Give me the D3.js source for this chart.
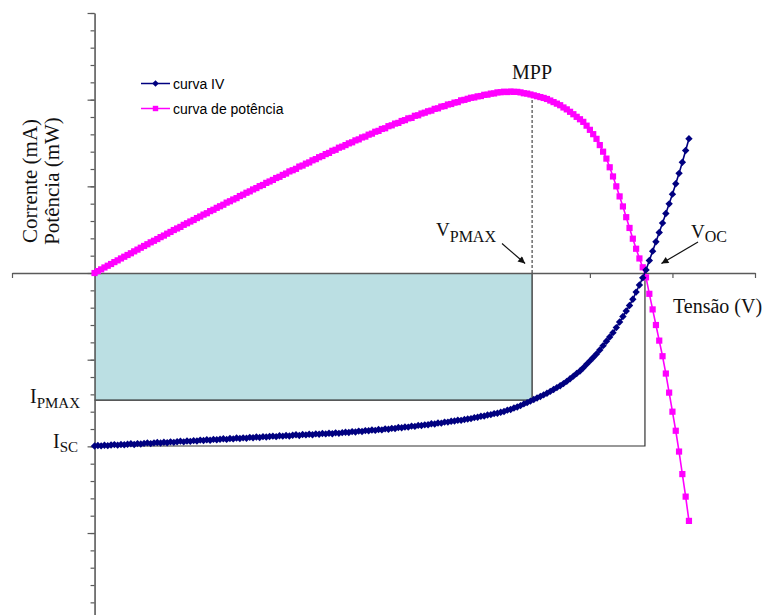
<!DOCTYPE html>
<html><head><meta charset="utf-8">
<script src="https://cdn.jsdelivr.net/npm/d3@7"></script>
<style>html,body{margin:0;padding:0;background:#fff;} svg{display:block;}</style>
</head><body>
<svg id="chart" width="763" height="615"></svg>
<script>
// ---- data ----
const vStep = 0.04; // V between measured points, first point at 0 V
const current = [
-9.98,-9.95,-9.97,-9.94,-9.96,-9.92,-9.90,-9.93,-9.89,-9.91,
-9.88,-9.85,-9.89,-9.84,-9.86,-9.83,-9.80,-9.84,-9.80,-9.78,
-9.81,-9.76,-9.79,-9.74,-9.77,-9.73,-9.70,-9.74,-9.69,-9.71,
-9.67,-9.69,-9.64,-9.66,-9.62,-9.65,-9.60,-9.62,-9.59,-9.56,
-9.60,-9.55,-9.57,-9.52,-9.55,-9.51,-9.53,-9.48,-9.50,-9.46,
-9.49,-9.44,-9.46,-9.43,-9.41,-9.44,-9.39,-9.41,-9.37,-9.40,
-9.36,-9.33,-9.37,-9.32,-9.34,-9.30,-9.33,-9.28,-9.30,-9.26,
-9.28,-9.24,-9.27,-9.22,-9.25,-9.21,-9.19,-9.20,-9.15,-9.17,
-9.12,-9.14,-9.09,-9.10,-9.06,-9.08,-9.03,-9.05,-8.99,-9.01,
-8.96,-8.97,-8.91,-8.93,-8.88,-8.89,-8.83,-8.85,-8.79,-8.80,
-8.76,-8.75,-8.70,-8.71,-8.65,-8.66,-8.60,-8.60,-8.55,-8.54,
-8.49,-8.50,-8.45,-8.42,-8.40,-8.34,-8.32,-8.26,-8.25,-8.19,
-8.17,-8.11,-8.09,-8.03,-7.99,-7.91,-7.87,-7.79,-7.73,-7.65,
-7.55,-7.48,-7.39,-7.30,-7.21,-7.12,-7.03,-6.94,-6.83,-6.72,
-6.61,-6.50,-6.38,-6.25,-6.10,-5.95,-5.80,-5.65,-5.47,-5.27,
-5.07,-4.87,-4.67,-4.44,-4.19,-3.94,-3.69,-3.44,-3.15,-2.83,
-2.51,-2.19,-1.87,-1.51,-1.10,-0.69,-0.28,0.18,0.72,1.26,
1.80,2.34,2.88,3.43,3.99,4.55,5.15,5.75,6.39,7.07,
7.75];
const power = [
0,0.11,0.21,0.32,0.42,0.52,0.63,0.73,0.84,0.94,
1.04,1.14,1.25,1.35,1.46,1.56,1.66,1.77,1.86,1.96,
2.07,2.16,2.27,2.37,2.48,2.57,2.66,2.78,2.87,2.97,
3.06,3.17,3.26,3.37,3.45,3.57,3.65,3.76,3.85,3.94,
4.06,4.14,4.24,4.32,4.44,4.52,4.63,4.71,4.82,4.90,
5.01,5.08,5.20,5.28,5.37,5.48,5.55,5.66,5.74,5.86,
5.93,6.01,6.14,6.20,6.31,6.38,6.50,6.57,6.68,6.75,
6.86,6.93,7.05,7.11,7.23,7.29,7.38,7.48,7.54,7.65,
7.71,7.82,7.87,7.98,8.04,8.15,8.20,8.31,8.35,8.47,
8.52,8.62,8.66,8.77,8.82,8.92,8.95,9.07,9.10,9.20,
9.25,9.33,9.37,9.47,9.50,9.60,9.63,9.72,9.75,9.83,
9.86,9.96,9.99,10.05,10.11,10.13,10.19,10.21,10.28,10.29,
10.35,10.36,10.42,10.43,10.46,10.44,10.47,10.45,10.45,10.42,
10.37,10.35,10.30,10.25,10.20,10.15,10.10,10.04,9.95,9.86,
9.77,9.68,9.55,9.44,9.30,9.16,9.01,8.87,8.72,8.50,
8.26,8.01,7.74,7.38,7.00,6.60,6.10,5.57,5.00,4.42,
3.84,3.22,2.60,1.98,1.40,0.84,0.33,-0.25,-1.20,-2.10,
-3.00,-3.90,-4.80,-5.80,-6.90,-8.00,-9.10,-10.30,-11.60,-12.90,
-14.30];
const seriesNames = ["curva IV", "curva de potência"];
const xTicks = [-1,0,1,2,3,4,5,6,7,8];
const yTicks = [-20,-19,-18,-17,-16,-15,-14,-13,-12,-11,-10,-9,-8,-7,-6,-5,-4,-3,-2,-1,0,1,2,3,4,5,6,7,8,9,10,11,12,13,14,15];
const yMajorTicks = [-20,-15,-10,-5,0,5,10,15];
const vPmax = 5.30, iPmax = -7.33, pMaxDash = 10.2, vOc = 6.667, iSc = -9.98;

// ---- chart ----
const svg = d3.select("#chart");
const x = d3.scaleLinear().domain([-1, 8]).range([12, 755]);
const y = d3.scaleLinear().domain([-20, 15]).range([619.7, 13]);
const serif = "'Times New Roman','Liberation Serif',serif";
const sans = "Arial,'Liberation Sans',sans-serif";
const axisColor = "#5a5a5a";

// axes (ticks first; rectangle covers the ticks beneath it)
const gx = svg.append("g").attr("transform", `translate(0,${y(0)})`)
  .call(d3.axisBottom(x).tickValues(xTicks).tickSize(5).tickSizeOuter(0).tickFormat(""));
const gyMinor = svg.append("g").attr("transform", `translate(${x(0)},0)`)
  .call(d3.axisLeft(y).tickValues(yTicks).tickSize(4).tickSizeOuter(0).tickFormat(""));
const gyMajor = svg.append("g").attr("transform", `translate(${x(0)},0)`)
  .call(d3.axisLeft(y).tickValues(yMajorTicks).tickSize(7).tickSizeOuter(0).tickFormat(""));
gyMajor.select(".domain").remove();
svg.selectAll(".domain").attr("stroke", axisColor).attr("stroke-width", 1.6);
svg.selectAll(".tick line").attr("stroke", axisColor).attr("stroke-width", 1.2);

// shaded rectangle (max power area)
svg.append("rect")
  .attr("x", x(0)).attr("y", y(0))
  .attr("width", x(vPmax) - x(0)).attr("height", y(iPmax) - y(0))
  .attr("fill", "#bbdfe3");
svg.append("path")
  .attr("d", `M${x(0)},${y(iPmax)}H${x(vPmax)}V${y(0)}`)
  .attr("fill", "none").attr("stroke", "#222").attr("stroke-width", 1.2);
// bring axis lines back on top of the rectangle
gx.raise(); gx.selectAll(".tick").remove();
svg.append("g").attr("transform", `translate(0,${y(0)})`)
  .call(d3.axisBottom(x).tickValues(xTicks.filter(v => v > vPmax || v < 0)).tickSize(5).tickSizeOuter(0).tickFormat(""))
  .call(g => g.select(".domain").remove())
  .selectAll(".tick line").attr("stroke", axisColor).attr("stroke-width", 1.2);
gyMinor.raise();

// Isc / Voc guide
svg.append("path")
  .attr("d", `M${x(0)},${y(iSc)}H${x(vOc)}V${y(0)}`)
  .attr("fill", "none").attr("stroke", "#333").attr("stroke-width", 1.2);
// MPP dashed line
svg.append("line")
  .attr("x1", x(vPmax)).attr("x2", x(vPmax))
  .attr("y1", y(0)).attr("y2", y(pMaxDash))
  .attr("stroke", "#222").attr("stroke-width", 1).attr("stroke-dasharray", "3,2");

// curves
const ivColor = "#000080", pColor = "#ff00ff";
const line = d3.line().x((d, i) => x(i * vStep)).y(d => y(d));
const diamond = "M0,-3.7L3.7,0L0,3.7L-3.7,0Z";
const sq = 6.2;

svg.append("path").datum(power).attr("d", line)
  .attr("fill", "none").attr("stroke", pColor).attr("stroke-width", 1.6);
svg.append("g").selectAll("rect").data(power).join("rect")
  .attr("x", (d, i) => x(i * vStep) - sq / 2).attr("y", d => y(d) - sq / 2)
  .attr("width", sq).attr("height", sq).attr("fill", pColor);

svg.append("path").datum(current).attr("d", line)
  .attr("fill", "none").attr("stroke", ivColor).attr("stroke-width", 1.6);
svg.append("g").selectAll("path").data(current).join("path")
  .attr("transform", (d, i) => `translate(${x(i * vStep)},${y(d)})`)
  .attr("d", diamond).attr("fill", ivColor);

// legend
const legend = svg.append("g");
[[ivColor, "d"], [pColor, "s"]].forEach(([c, m], k) => {
  const ly = 83.5 + k * 25;
  legend.append("line").attr("x1", 141).attr("x2", 170).attr("y1", ly).attr("y2", ly)
    .attr("stroke", c).attr("stroke-width", 1.5);
  if (m === "d") legend.append("path").attr("d", "M0,-3.3L3.3,0L0,3.3L-3.3,0Z").attr("transform", `translate(155.5,${ly})`).attr("fill", c);
  else legend.append("rect").attr("x", 152.8).attr("y", ly - 2.7).attr("width", 5.4).attr("height", 5.4).attr("fill", c);
  legend.append("text").attr("x", 173).attr("y", ly + 5)
    .attr("font-family", sans).attr("font-size", 14).attr("fill", "#000")
    .text(seriesNames[k]);
});

// axis titles
const yl = svg.append("g").attr("transform", "translate(37,181) rotate(-90)")
  .attr("font-family", serif).attr("font-size", 21).attr("fill", "#111").attr("text-anchor", "middle");
yl.append("text").attr("x", 0).attr("y", 0).text("Corrente (mA)");
yl.append("text").attr("x", 0).attr("y", 22).text("Potência (mW)");
svg.append("text").attr("x", 673).attr("y", 313).attr("font-family", serif).attr("font-size", 20)
  .attr("fill", "#111").text("Tensão (V)");

// annotations
function subLabel(px, py, main, sub, fs, sfs, dy) {
  const t = svg.append("text").attr("x", px).attr("y", py)
    .attr("font-family", serif).attr("font-size", fs).attr("fill", "#111");
  t.append("tspan").text(main);
  t.append("tspan").attr("font-size", sfs).attr("dy", dy).text(sub);
}
svg.append("text").attr("x", x(vPmax)).attr("y", 79).attr("text-anchor", "middle")
  .attr("font-family", serif).attr("font-size", 20).attr("fill", "#111").text("MPP");
subLabel(436, 236, "V", "PMAX", 19, 16, 6);
subLabel(691, 238, "V", "OC", 19, 16, 4);
subLabel(30, 403, "I", "PMAX", 20, 15, 4.5);
subLabel(53, 447.5, "I", "SC", 20, 15, 4.5);

// arrows
svg.append("defs").append("marker").attr("id", "ah")
  .attr("viewBox", "0 0 10 10").attr("refX", 10).attr("refY", 5)
  .attr("markerWidth", 9).attr("markerHeight", 7).attr("markerUnits", "userSpaceOnUse")
  .attr("orient", "auto")
  .append("path").attr("d", "M0,0L10,5L0,10Z").attr("fill", "#111");
svg.append("line").attr("x1", 502).attr("y1", 243.5).attr("x2", x(vPmax) - 7).attr("y2", y(0) - 9.5)
  .attr("stroke", "#111").attr("stroke-width", 1.2).attr("marker-end", "url(#ah)");
svg.append("line").attr("x1", 698).attr("y1", 242).attr("x2", x(vOc) + 16.5).attr("y2", y(0) - 9.5)
  .attr("stroke", "#111").attr("stroke-width", 1.2).attr("marker-end", "url(#ah)");
</script>
</body></html>
